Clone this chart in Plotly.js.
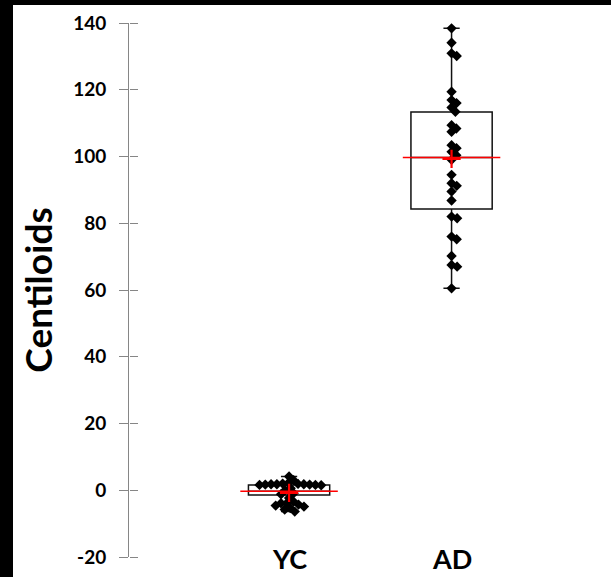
<!DOCTYPE html>
<html>
<head>
<meta charset="utf-8">
<script src="https://cdn.plot.ly/plotly-3.0.1.min.js"></script>
<style>
  html, body { margin: 0; padding: 0; background: #000; width: 611px; height: 577px; overflow: hidden; }
  #chart { position: absolute; left: 13px; top: 5px; width: 598px; height: 572px; background: #fff; }
</style>
</head>
<body>
<div id="chart"></div>
<script>
// ---- data ----
const categories = ['YC', 'AD'];
const positions = [1, 2];

const ycValues = [4.1, 3.0, 2.2, 2.0, 1.9, 1.8, 1.8, 1.8, 1.7, 1.7, 1.6, 1.6, 1.5,
                  0.6, 0.0, -0.9, -1.2, -2.3, -3.4, -3.9, -3.9, -4.3, -4.6, -4.9, -5.3, -5.8, -6.4];
const adValues = [138.4, 134.1, 130.9, 130.1, 119.4, 116.9, 116.0, 114.7, 113.4, 109.4,
                  108.4, 107.4, 103.4, 102.5, 101.4, 100.4, 99.0, 94.5, 92.0, 91.2,
                  89.5, 86.8, 82.0, 81.5, 76.0, 75.2, 70.2, 67.5, 67.0, 60.5];

const q1 = [-1.4, 84.3];
const medians = [-0.3, 99.7];
const q3 = [1.6, 113.3];
const lowerFence = [-6.4, 60.5];
const upperFence = [4.1, 138.4];
const means = [-0.8, 99.3];

const yTickVals = [-20, 0, 20, 40, 60, 80, 100, 120, 140];

// ---- geometry helpers ----
const W = 598, H = 572;
const M = { l: 116, r: 0, t: 18, b: 20 };
const yRange = [-20, 140];
const xRange = [0.015, 0.015 + (W - M.l - M.r) / 162.5];
const kx = (W - M.l - M.r) / (xRange[1] - xRange[0]); // px per x unit
const ky = (H - M.t - M.b) / (yRange[1] - yRange[0]); // px per y unit

// simple compact beeswarm (computed offsets)
function swarm(vals, center, s) {
  const placed = [];
  const xs = [];
  vals.forEach(v => {
    const y = v * ky;
    const cands = [0];
    placed.forEach(p => {
      const dy = y - p.y;
      if (Math.abs(dy) < s) {
        const dx = Math.sqrt(s * s - dy * dy);
        cands.push(p.x + dx + 1e-6, p.x - dx - 1e-6);
      }
    });
    cands.sort((a, b) => Math.abs(a) - Math.abs(b));
    const x = cands.find(c => placed.every(p => Math.hypot(c - p.x, y - p.y) >= s - 1e-9));
    placed.push({ x, y });
    xs.push(center + x / kx);
  });
  return xs;
}

const groups = [ycValues, adValues];
const traces = [];

// boxes
traces.push({
  type: 'box',
  x: positions,
  q1: q1, median: medians, q3: q3,
  lowerfence: lowerFence, upperfence: upperFence,
  width: 0.5,
  whiskerwidth: 0.2,
  boxpoints: false,
  fillcolor: 'rgba(0,0,0,0)',
  line: { color: '#111', width: 1.5 },
  hoverinfo: 'skip',
  showlegend: false
});

// points
groups.forEach((vals, i) => {
  traces.push({
    type: 'scatter', mode: 'markers',
    x: swarm(vals, positions[i], 5.8),
    y: vals,
    marker: { symbol: 'diamond', size: 8, color: '#000' },
    showlegend: false, cliponaxis: false
  });
});

// red median lines
const mx = [], my = [];
positions.forEach((p, i) => { mx.push(p - 0.3, p + 0.3, null); my.push(medians[i], medians[i], null); });
traces.push({
  type: 'scatter', mode: 'lines', x: mx, y: my,
  line: { color: '#ff0000', width: 1.3 }, showlegend: false, hoverinfo: 'skip'
});

// mean crosses
traces.push({
  type: 'scatter', mode: 'markers', x: positions, y: means,
  marker: { symbol: 'cross-thin-open', size: 13, color: '#ff0000', line: { color: '#ff0000', width: 2.2 } },
  showlegend: false
});

// helper trace so the mirrored-tick axis gets drawn
traces.push({ type: 'scatter', mode: 'markers', x: [positions[0]], y: [yRange[0]], yaxis: 'y2',
  marker: { opacity: 0 }, showlegend: false, hoverinfo: 'skip' });

const tickFont = { family: 'Lato, sans-serif', size: 19, weight: 700, color: '#000' };

const layout = {
  width: W, height: H,
  margin: M,
  paper_bgcolor: '#fff', plot_bgcolor: '#fff',
  showlegend: false,
  xaxis: { range: xRange, visible: false, showgrid: false, zeroline: false },
  yaxis: {
    range: yRange, tickvals: yTickVals, ticktext: yTickVals.map(String),
    ticks: 'outside', ticklen: 9, tickwidth: 1, tickcolor: '#868686',
    showline: true, linecolor: '#868686', linewidth: 1,
    showgrid: false, zeroline: false,
    tickfont: tickFont, ticklabelstandoff: 9,
    title: { text: 'Centiloids', font: { family: 'Lato, sans-serif', size: 37, weight: 700, color: '#000' }, standoff: 9 },
    automargin: false
  },
  yaxis2: {
    overlaying: 'y', side: 'right', anchor: 'free', position: 0, range: yRange, tickvals: yTickVals,
    ticks: 'outside', ticklen: 8, tickwidth: 1, tickcolor: '#868686',
    showticklabels: false, showline: false, showgrid: false, zeroline: false, automargin: false
  },
  annotations: categories.map((c, i) => ({
    x: positions[i], y: yRange[0], xref: 'x', yref: 'y',
    text: c, showarrow: false, yanchor: 'middle', yshift: -1,
    font: { family: 'Lato, sans-serif', size: 27, weight: 700, color: '#000' }
  }))
};

Plotly.newPlot('chart', traces, layout, { displayModeBar: false, staticPlot: true });
</script>
</body>
</html>
